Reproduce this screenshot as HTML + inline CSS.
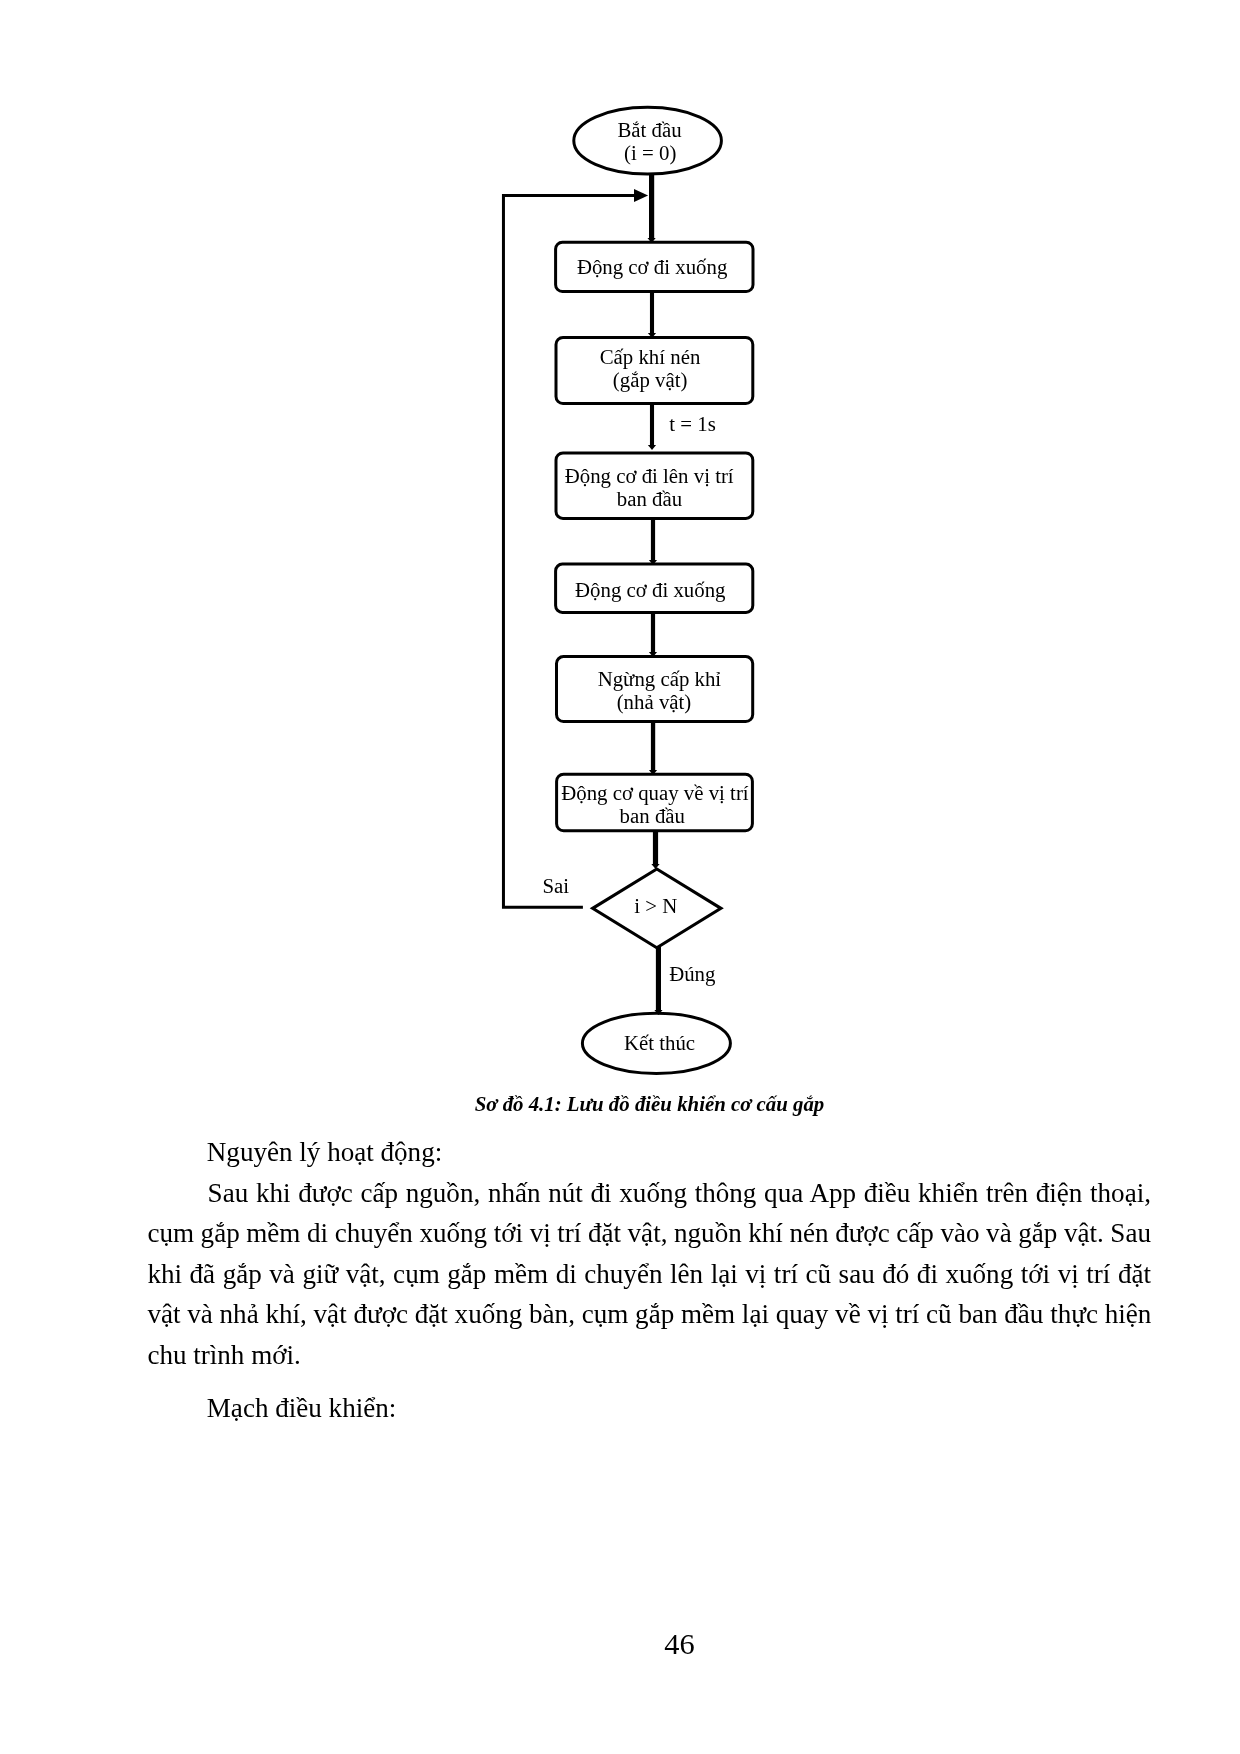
<!DOCTYPE html>
<html lang="vi">
<head>
<meta charset="utf-8">
<title>Lưu đồ điều khiển cơ cấu gắp</title>
<style>
html,body{margin:0;padding:0;background:#fff;}
body{width:1240px;height:1754px;position:relative;overflow:hidden;font-family:"Liberation Serif","Times New Roman",serif;color:#000;}
#page{will-change:transform;position:absolute;left:0;top:0;width:1240px;height:1754px;background:#fff;}
svg{position:absolute;left:0;top:0;}
svg text{font-family:"Liberation Serif","Times New Roman",serif;font-size:20.83px;fill:#000;}
.ln{position:absolute;left:147.4px;width:1003.6px;font-size:27.08px;line-height:40.6px;height:40.6px;white-space:nowrap;text-align:justify;text-align-last:justify;}
.ln.ind{left:206.8px;width:944.2px;}
.ln.p1{left:207.6px;width:943.4px;}
.ln.last{text-align:left;text-align-last:left;}
.cap{position:absolute;left:147.6px;width:1003.8px;text-align:center;font-size:20.83px;font-weight:bold;font-style:italic;line-height:24px;white-space:nowrap;}
.pg{position:absolute;font-size:30.4px;line-height:34px;white-space:nowrap;}
</style>
</head>
<body>
<div id="page">
<svg width="1240" height="1754" viewBox="0 0 1240 1754">
  <g fill="none" stroke="#000" stroke-width="3">
    <ellipse cx="647.6" cy="140.7" rx="73.8" ry="33.4"/>
    <rect x="555.6" y="242.3" width="197.4" height="49.2" rx="6.8" ry="6.8"/>
    <rect x="556" y="337.4" width="196.8" height="66.1" rx="7" ry="7"/>
    <rect x="556" y="453" width="196.8" height="65.4" rx="7" ry="7"/>
    <rect x="555.6" y="564.1" width="197.2" height="48.3" rx="6.8" ry="6.8"/>
    <rect x="556.5" y="656.6" width="196.2" height="64.9" rx="7" ry="7"/>
    <rect x="556.6" y="774.2" width="195.8" height="56.6" rx="7" ry="7"/>
    <polygon points="656.8,868.95 720.9,908.35 656.8,947.75 592.65,908.35" stroke-width="3.1" stroke-linejoin="miter" stroke-miterlimit="10"/>
    <ellipse cx="656.4" cy="1043.3" rx="74" ry="30.1"/>
  </g>
  <g fill="none" stroke="#000">
    <line x1="651.6" y1="175" x2="651.6" y2="238.5" stroke-width="5.2"/>
    <line x1="652" y1="292" x2="652" y2="334" stroke-width="4.1"/>
    <line x1="652" y1="404" x2="652" y2="446" stroke-width="4.1"/>
    <line x1="653" y1="519" x2="653" y2="561" stroke-width="4.2"/>
    <line x1="653" y1="613" x2="653" y2="653" stroke-width="4.2"/>
    <line x1="653.05" y1="722" x2="653.05" y2="771" stroke-width="4.3"/>
    <line x1="655.5" y1="831" x2="655.5" y2="865" stroke-width="5.2"/>
    <line x1="658.45" y1="947" x2="658.45" y2="1011" stroke-width="5.15"/>
    <polyline points="582.9,907.2 503.45,907.2 503.45,195.4 636,195.4" stroke-width="3" stroke-linejoin="miter"/>
  </g>
  <g fill="#000" stroke="none">
    <polygon points="634,188.9 648.1,195.5 634,202.1"/>
    <polygon points="647.50,237.9 655.70,237.9 651.6,242.9"/>
    <polygon points="647.90,333 656.10,333 652,338"/>
    <polygon points="647.90,445 656.10,445 652,450"/>
    <polygon points="648.90,560 657.10,560 653,565"/>
    <polygon points="648.90,652 657.10,652 653,657"/>
    <polygon points="648.95,769.95 657.15,769.95 653.05,774.95"/>
    <polygon points="651.40,864.1 659.60,864.1 655.5,869.1"/>
    <polygon points="654.35,1010 662.55,1010 658.45,1015"/>
  </g>
  <g text-anchor="middle">
    <text x="649.5" y="136.8">Bắt đầu</text>
    <text x="650.2" y="160.3">(i = 0)</text>
    <text x="652.1" y="273.8">Động cơ đi xuống</text>
    <text x="650" y="363.5">Cấp khí nén</text>
    <text x="650.1" y="387.3">(gắp vật)</text>
    <text x="692.5" y="430.8">t = 1s</text>
    <text x="649.2" y="482.8">Động cơ đi lên vị trí</text>
    <text x="649.5" y="506">ban đầu</text>
    <text x="650.3" y="596.9">Động cơ đi xuống</text>
    <text x="659.4" y="685.6">Ngừng cấp khỉ</text>
    <text x="654" y="709.4">(nhả vật)</text>
    <text x="654.9" y="799.8">Động cơ quay về vị trí</text>
    <text x="652.3" y="823.3">ban đầu</text>
    <text x="555.7" y="893.4">Sai</text>
    <text x="655.7" y="912.6">i &gt; N</text>
    <text x="692.3" y="981">Đúng</text>
    <text x="659.5" y="1049.6">Kết thúc</text>
  </g>
</svg>
<div class="cap" style="top:1092.4px;">Sơ đồ 4.1: Lưu đồ điều khiển cơ cấu gắp</div>
<div class="ln ind last" style="top:1131.5px;">Nguyên lý hoạt động:</div>
<div class="ln ind p1" style="top:1173.0px;">Sau khi được cấp nguồn, nhấn nút đi xuống thông qua App điều khiển trên điện thoại,</div>
<div class="ln" style="top:1213.3px;word-spacing:-0.6px;">cụm gắp mềm di chuyển xuống tới vị trí đặt vật, nguồn khí nén được cấp vào và gắp vật. Sau</div>
<div class="ln" style="top:1253.8px;">khi đã gắp và giữ vật, cụm gắp mềm di chuyển lên lại vị trí cũ sau đó đi xuống tới vị trí đặt</div>
<div class="ln" style="top:1294.3px;">vật và nhả khí, vật được đặt xuống bàn, cụm gắp mềm lại quay về vị trí cũ ban đầu thực hiện</div>
<div class="ln last" style="top:1335.2px;">chu trình mới.</div>
<div class="ln ind last" style="top:1387.5px;">Mạch điều khiển:</div>
<div class="pg" style="left:664.2px;top:1626.9px;">46</div>
</div>
</body>
</html>
